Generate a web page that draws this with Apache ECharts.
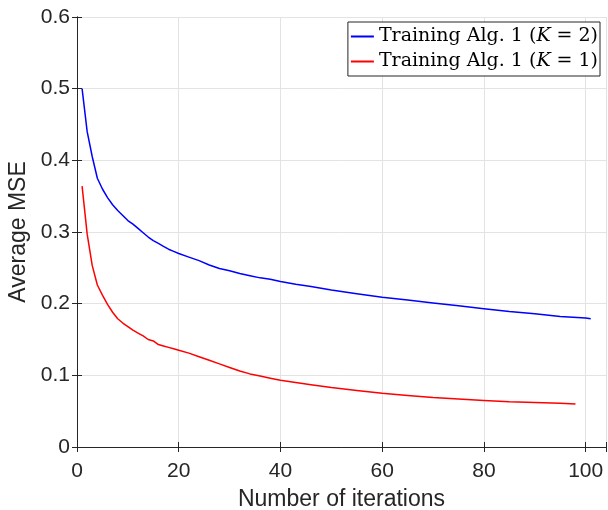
<!DOCTYPE html>
<html>
<head>
<meta charset="utf-8">
<script src="https://cdn.jsdelivr.net/npm/echarts@6/dist/echarts.min.js"></script>
<style>
  html, body { margin: 0; padding: 0; background: #fff; }
  #chart { width: 608px; height: 510px; }
</style>
</head>
<body>
<div id="chart"></div>
<script>
// iteraciones y MSE
var iterK2 = [1, 2, 3, 4, 5, 6, 7, 8, 9, 10, 11, 12, 13, 14, 15, 16, 17, 18, 19, 20,
  22, 24, 26, 28, 30, 32, 34, 36, 38, 40, 43, 46, 50, 55, 60, 65, 70, 75, 80, 85, 90, 95, 100, 101];
var mseK2 = [0.500, 0.440, 0.405, 0.375, 0.360, 0.348, 0.338, 0.330, 0.323, 0.316, 0.311, 0.305, 0.299, 0.293, 0.288, 0.284, 0.280, 0.276, 0.273, 0.270,
  0.265, 0.260, 0.254, 0.249, 0.246, 0.242, 0.239, 0.236, 0.234, 0.231, 0.227, 0.224, 0.219, 0.214, 0.209, 0.205, 0.201, 0.197, 0.193, 0.189, 0.186, 0.182, 0.180, 0.179];

var iterK1 = [1, 2, 3, 4, 5, 6, 7, 8, 9, 10, 11, 12, 13, 14, 15, 16, 17, 18, 19, 20,
  22, 24, 26, 28, 30, 32, 34, 36, 38, 40, 43, 46, 50, 55, 60, 65, 70, 75, 80, 85, 90, 95, 98];
var mseK1 = [0.364, 0.297, 0.253, 0.226, 0.212, 0.199, 0.188, 0.179, 0.173, 0.168, 0.163, 0.159, 0.155, 0.150, 0.148, 0.143, 0.141, 0.139, 0.137, 0.135,
  0.131, 0.126, 0.121, 0.116, 0.111, 0.106, 0.102, 0.099, 0.096, 0.093, 0.090, 0.087, 0.083, 0.079, 0.075, 0.072, 0.069, 0.067, 0.065, 0.063, 0.062, 0.061, 0.060];

var nombresSeries = ['K2', 'K1'];
var textoLeyenda = { K2: '2', K1: '1' };

function pares(xs, ys) {
  return xs.map(function (x, i) { return [x, ys[i]]; });
}

var colorEje = '#262626';
var fuenteSerif = 'DejaVu Serif';
var chart = echarts.init(document.getElementById('chart'));

var option = {
  animation: false,
  grid: { left: 77, top: 17, right: 2, bottom: 63, containLabel: false, outerBoundsMode: 'none' },
  legend: {
    right: 8,
    top: 22,
    orient: 'vertical',
    itemWidth: 23,
    itemHeight: 2,
    itemGap: 6,
    padding: [5, 2, 5, 3],
    borderColor: '#262626',
    borderWidth: 1,
    borderRadius: 0,
    backgroundColor: '#fff',
    icon: 'rect',
    data: nombresSeries,
    formatter: function (name) {
      return '{a|Training Alg. 1 (}{k|K}{eq|=}{a|' + textoLeyenda[name] + ')}';
    },
    textStyle: {
      fontSize: 19,
      rich: {
        a: { fontFamily: fuenteSerif, fontSize: 19, color: '#000' },
        k: { fontFamily: fuenteSerif, fontSize: 19, fontStyle: 'italic', color: '#000' },
        eq: { fontFamily: fuenteSerif, fontSize: 19, color: '#000', padding: [0, 6, 0, 6] }
      }
    }
  },
  xAxis: [
    {
      type: 'value',
      min: 0,
      max: 104,
      interval: 20,
      name: 'Number of iterations',
      nameLocation: 'middle',
      nameGap: 41,
      nameTextStyle: { fontFamily: 'Liberation Sans', fontSize: 23, color: colorEje },
      axisLine: { lineStyle: { color: colorEje } },
      axisTick: { inside: true, length: 5, lineStyle: { color: colorEje } },
      axisLabel: {
        fontFamily: 'Liberation Sans', fontSize: 21, color: colorEje, margin: 14,
        formatter: function (v) { return v % 20 === 0 ? String(v) : ''; }
      },
      splitLine: { show: true, lineStyle: { color: '#e3e3e3' } }
    },
    {
      type: 'value',
      position: 'top',
      min: 0,
      max: 104,
      interval: 20,
      axisLine: { lineStyle: { color: colorEje } },
      axisTick: { inside: true, length: 5, lineStyle: { color: colorEje } },
      axisLabel: { show: false },
      splitLine: { show: false }
    }
  ],
  yAxis: [
    {
      type: 'value',
      min: 0,
      max: 0.6,
      interval: 0.1,
      name: 'Average MSE',
      nameLocation: 'middle',
      nameGap: 40,
      nameTextStyle: { fontFamily: 'Liberation Sans', fontSize: 23, color: colorEje },
      axisLine: { show: true, lineStyle: { color: colorEje } },
      axisTick: { show: true, inside: true, length: 5, lineStyle: { color: colorEje } },
      axisLabel: { fontFamily: 'Liberation Sans', fontSize: 21, color: colorEje, margin: 7 },
      splitLine: { show: true, lineStyle: { color: '#e3e3e3' } }
    },
    {
      type: 'value',
      position: 'right',
      min: 0,
      max: 0.6,
      interval: 0.1,
      axisLine: { show: true, lineStyle: { color: colorEje } },
      axisTick: { show: true, inside: true, length: 5, lineStyle: { color: colorEje } },
      axisLabel: { show: false },
      splitLine: { show: false }
    }
  ],
  series: [
    {
      name: 'K2',
      type: 'line',
      data: pares(iterK2, mseK2),
      showSymbol: false,
      lineStyle: { color: '#0000ff', width: 1.5 },
      itemStyle: { color: '#0000ff' }
    },
    {
      name: 'K1',
      type: 'line',
      data: pares(iterK1, mseK1),
      showSymbol: false,
      lineStyle: { color: '#ff0000', width: 1.5 },
      itemStyle: { color: '#ff0000' }
    }
  ]
};

chart.setOption(option);
</script>
</body>
</html>
